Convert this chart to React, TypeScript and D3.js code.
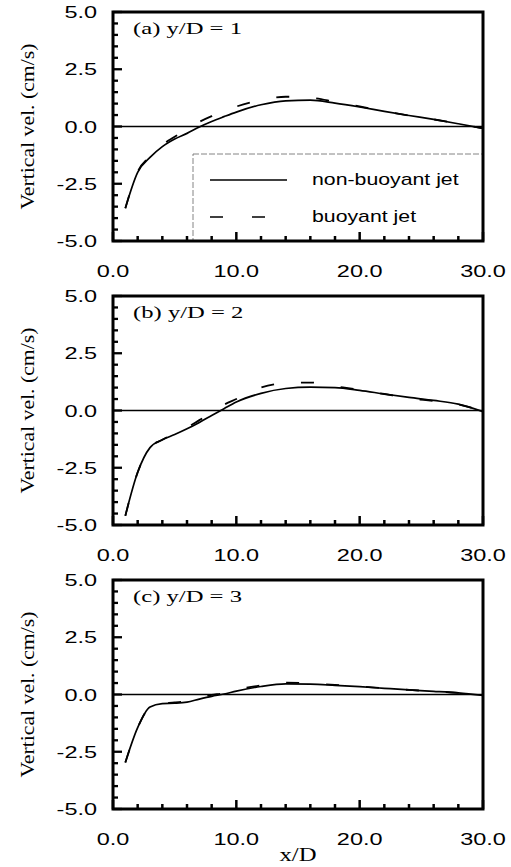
import React from "react";
import * as d3 from "d3";

// ---------- data ----------
const xPos = [1, 2, 3, 4, 5, 6, 7, 8, 9, 10, 12, 14, 16, 18, 20, 22, 24, 26, 28, 30];

const nonBuoyantA = [-3.57, -2.0, -1.35, -0.88, -0.55, -0.3, -0.02, 0.22, 0.43, 0.63, 0.95, 1.12, 1.15, 1.02, 0.85, 0.66, 0.48, 0.31, 0.12, -0.08];
const buoyantA = [-3.57, -1.97, -1.3, -0.8, -0.45, -0.1, 0.2, 0.45, 0.67, 0.87, 1.15, 1.3, 1.26, 1.08, 0.88, 0.67, 0.48, 0.31, 0.12, -0.08];

const nonBuoyantB = [-4.6, -2.7, -1.62, -1.28, -1.05, -0.8, -0.52, -0.22, 0.08, 0.37, 0.75, 0.96, 1.02, 1.0, 0.88, 0.72, 0.57, 0.44, 0.28, -0.05];
const buoyantB = [-4.6, -2.7, -1.62, -1.28, -1.0, -0.75, -0.42, -0.1, 0.25, 0.5, 1.0, 1.2, 1.22, 1.06, 0.9, 0.72, 0.54, 0.41, 0.27, -0.05];

const nonBuoyantC = [-2.97, -1.45, -0.55, -0.4, -0.38, -0.33, -0.2, -0.08, 0.02, 0.15, 0.35, 0.46, 0.45, 0.4, 0.34, 0.27, 0.2, 0.14, 0.07, -0.04];
const buoyantC = [-2.97, -1.45, -0.55, -0.38, -0.35, -0.28, -0.12, -0.02, 0.06, 0.2, 0.4, 0.52, 0.48, 0.42, 0.35, 0.27, 0.2, 0.14, 0.07, -0.04];

const panelTitles = ["(a) y/D = 1", "(b) y/D = 2", "(c) y/D = 3"];
const xTickValues = [0, 10, 20, 30];
const yTickValues = [5, 2.5, 0, -2.5, -5];
const legendLabels = ["non-buoyant jet", "buoyant jet"];
const yAxisTitle = "Vertical vel. (cm/s)";
const xAxisTitle = "x/D";

// ---------- layout ----------
const W = 511;
const H = 867;
const left = 113;
const right = 483;
const panelTops = [12, 296, 580];
const panelHeight = 229;

const SANS = "'Liberation Sans', Arial, sans-serif";
const SERIF = "'Liberation Serif', 'Times New Roman', serif";

const x = d3.scaleLinear().domain([0, 30]).range([left, right]);
const fmt = (v: number) => d3.format(".1f")(v).replace("\u2212", "-");

function Panel({ idx, solid, dashed, legend }: { idx: number; solid: number[]; dashed: number[]; legend: boolean }) {
  const top = panelTops[idx];
  const bottom = top + panelHeight;
  const y = d3.scaleLinear().domain([-5, 5]).range([bottom, top]);
  const line = d3
    .line<number>()
    .x((_, i) => x(xPos[i]))
    .y((v) => y(v))
    .curve(d3.curveMonotoneX);

  const xMinor = d3.range(0, 31, 2);
  const yMinor = d3.range(-10, 11, 1).map((k) => k / 2);

  return (
    <g>
      {/* zero line */}
      <line x1={left} x2={right} y1={y(0)} y2={y(0)} stroke="#000" strokeWidth={1.3} />
      {/* legend */}
      {legend && (
        <g>
          <rect x={193} y={154} width={right - 193} height={bottom - 154} fill="#fff" stroke="#777" strokeWidth={0.9} strokeDasharray="6 2" />
          <line x1={210} x2={287} y1={180} y2={180} stroke="#000" strokeWidth={1.6} />
          <text transform={`translate(312,185) scale(1.33,1)`} fontFamily={SANS} fontSize={16}>
            {legendLabels[0]}
          </text>
          <line x1={210} x2={268} y1={217} y2={217} stroke="#000" strokeWidth={1.6} strokeDasharray="13 29" />
          <text transform={`translate(312,222) scale(1.33,1)`} fontFamily={SANS} fontSize={16}>
            {legendLabels[1]}
          </text>
        </g>
      )}
      {/* curves */}
      <path d={line(dashed) || ""} fill="none" stroke="#000" strokeWidth={1.8} strokeDasharray="13 27" />
      <path d={line(solid) || ""} fill="none" stroke="#000" strokeWidth={1.7} />
      {/* frame */}
      <rect x={left} y={top} width={right - left} height={panelHeight} fill="none" stroke="#000" strokeWidth={3} />
      {/* ticks */}
      {xMinor.map((t) => (
        <line
          key={"xt" + t}
          x1={x(t)}
          x2={x(t)}
          y1={bottom}
          y2={bottom - (t % 10 === 0 ? 9 : 5)}
          stroke="#000"
          strokeWidth={2.5}
        />
      ))}
      {yMinor.map((t) => (
        <line
          key={"yt" + t}
          x1={left}
          x2={left + (Math.abs(t / 2.5 - Math.round(t / 2.5)) < 1e-6 ? 9 : 5)}
          y1={y(t)}
          y2={y(t)}
          stroke="#000"
          strokeWidth={2.3}
        />
      ))}
      {/* y tick labels */}
      {yTickValues.map((t) => (
        <text
          key={"yl" + t}
          transform={`translate(97,${y(t) + 6}) scale(1.38,1)`}
          textAnchor="end"
          fontFamily={SANS}
          fontSize={17}
        >
          {fmt(t)}
        </text>
      ))}
      {/* x tick labels */}
      {xTickValues.map((t) => (
        <text
          key={"xl" + t}
          transform={`translate(${x(t)},${bottom + 36}) scale(1.38,1)`}
          textAnchor="middle"
          fontFamily={SANS}
          fontSize={17}
        >
          {fmt(t)}
        </text>
      ))}
      {/* panel title */}
      <text transform={`translate(133,${top + 22}) scale(1.45,1)`} fontFamily={SERIF} fontSize={17}>
        {panelTitles[idx]}
      </text>
      {/* y axis title */}
      <text
        transform={`translate(34,${(top + bottom) / 2}) rotate(-90)`}
        textAnchor="middle"
        fontFamily={SERIF}
        fontSize={18}
        textLength={166}
        lengthAdjust="spacingAndGlyphs"
      >
        {yAxisTitle}
      </text>
    </g>
  );
}

export default function App() {
  return (
    <svg width={W} height={H} style={{ position: "absolute", left: 0, top: 0, background: "#fff" }}>
      <rect x={0} y={0} width={W} height={H} fill="#fff" />
      <Panel idx={0} solid={nonBuoyantA} dashed={buoyantA} legend={true} />
      <Panel idx={1} solid={nonBuoyantB} dashed={buoyantB} legend={false} />
      <Panel idx={2} solid={nonBuoyantC} dashed={buoyantC} legend={false} />
      <text transform={`translate(298,861) scale(1.3,1)`} textAnchor="middle" fontFamily={SERIF} fontSize={19}>
        {xAxisTitle}
      </text>
    </svg>
  );
}
